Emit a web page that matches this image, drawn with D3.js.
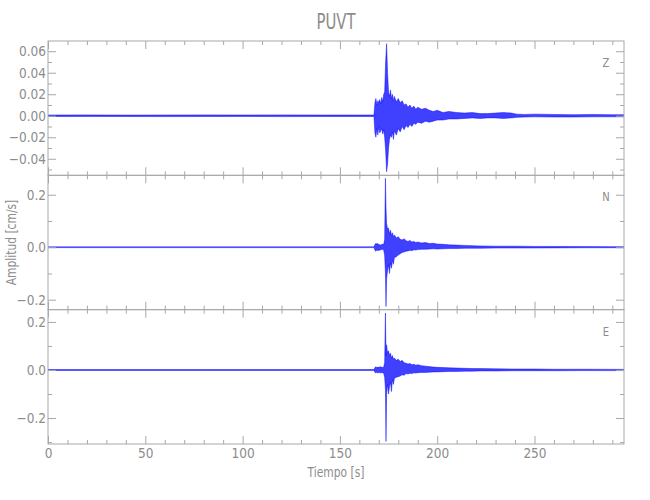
<!DOCTYPE html>
<html><head><meta charset="utf-8">
<script src="https://cdn.jsdelivr.net/npm/d3@7/dist/d3.min.js"></script>
<style>body{margin:0;background:#fff}</style>
</head><body><svg id="c" width="650" height="500"></svg>
<script>
// ---------- data ----------
const title = "PUVT";
const xLabel = "Tiempo [s]";
const yLabel = "Amplitud [cm/s]";
const components = ["Z", "N", "E"];
const xDomain = [0, 296];
const xTicks = [0, 50, 100, 150, 200, 250];
const xMinorStep = 10;

const zDomain = [-0.0554, 0.0695];
const nDomain = [-0.238, 0.274];
const eDomain = [-0.308, 0.251];
const zTicks = [-0.04, -0.02, 0.00, 0.02, 0.04, 0.06];
const nTicks = [-0.2, 0.0, 0.2];
const eTicks = [-0.2, 0.0, 0.2];
const zMinorStep = 0.01, nMinorStep = 0.1, eMinorStep = 0.1;

// envelope of the Z trace (time s, upper, lower) in cm/s
const zTime  = [0,20,40,60,80,100,120,140,160,167.5,168,168.5,169,169.5,170,170.5,171,171.5,172,172.5,173,173.5,174,174.5,175,175.5,176,176.5,177,177.5,178,179,180,181,182,183,184,185,186,187,188,189,190,192,194,196,198,200,203,206,210,214,218,222,226,230,234,238,241,245,250,260,270,280,290,296];
const zUpper = [.0007,.0008,.0006,.0007,.0008,.0007,.0008,.0007,.0007,.0007,.012,.016,.010,.014,.012,.015,.011,.017,.013,.020,.022,.050,.067,.040,.022,.018,.024,.016,.020,.014,.018,.013,.016,.012,.014,.010,.011,.008,.010,.007,.009,.006,.008,.006,.007,.005,.004,.005,.003,.004,.003,.0025,.003,.002,.002,.0025,.003,.0025,.0015,.0012,.0015,.0012,.001,.0012,.001,.001];
const zLower = [-.0007,-.0006,-.0007,-.0008,-.0007,-.0006,-.0008,-.0007,-.0007,-.0007,-.016,-.020,-.012,-.018,-.010,-.016,-.014,-.012,-.017,-.013,-.020,-.032,-.052,-.045,-.030,-.022,-.018,-.020,-.015,-.022,-.014,-.018,-.012,-.015,-.010,-.013,-.009,-.011,-.008,-.010,-.007,-.008,-.006,-.007,-.005,-.006,-.005,-.004,-.004,-.003,-.003,-.0025,-.002,-.0025,-.002,-.002,-.0025,-.002,-.0015,-.0012,-.001,-.0012,-.0012,-.001,-.001,-.001];

// envelope of the N trace
const nTime  = [0,20,40,60,80,100,120,140,160,167.5,168,168.5,169,169.5,170,171,172,172.5,173,173.4,173.7,174,174.5,175,175.5,176,176.5,177,177.5,178,179,180,181,182,183,184,185,186,187,188,189,190,192,194,196,198,200,203,206,210,214,218,222,230,240,250,260,275,296];
const nUpper = [.0015,.0015,.0015,.0015,.0015,.0015,.0015,.0015,.0015,.0015,.010,.015,.012,.014,.010,.008,.012,.010,.030,.263,.150,.090,.070,.073,.050,.065,.045,.055,.040,.047,.035,.040,.030,.028,.032,.025,.022,.026,.020,.022,.018,.020,.016,.018,.014,.015,.012,.011,.009,.008,.007,.006,.005,.004,.004,.003,.003,.0025,.002];
const nLower = [-.0015,-.0015,-.0015,-.0015,-.0015,-.0015,-.0015,-.0015,-.0015,-.0015,-.012,-.015,-.010,-.013,-.012,-.010,-.008,-.012,-.030,-.100,-.226,-.120,-.090,-.067,-.100,-.060,-.080,-.050,-.065,-.040,-.036,-.030,-.025,-.020,-.018,-.015,-.014,-.012,-.013,-.010,-.011,-.009,-.008,-.008,-.007,-.006,-.007,-.006,-.005,-.005,-.004,-.004,-.004,-.003,-.003,-.003,-.0025,-.002,-.002];

// envelope of the E trace
const eTime  = [0,20,40,60,80,100,120,140,160,167.5,168,168.5,169,169.5,170,171,172,172.5,173,173.4,173.7,174,174.5,175,175.5,176,176.5,177,177.5,178,179,180,181,182,183,184,185,186,187,188,189,190,192,194,196,198,200,203,206,210,214,218,222,230,240,250,260,275,296];
const eUpper = [.002,.002,.002,.002,.002,.002,.002,.002,.002,.002,.010,.013,.010,.012,.011,.013,.010,.012,.030,.237,.060,.105,.070,.080,.060,.070,.050,.060,.045,.050,.040,.045,.035,.040,.030,.028,.025,.027,.022,.024,.020,.022,.018,.016,.014,.012,.011,.010,.009,.008,.007,.006,.006,.005,.004,.004,.003,.003,.0025];
const eLower = [-.002,-.002,-.002,-.002,-.002,-.002,-.002,-.002,-.002,-.002,-.010,-.012,-.009,-.013,-.010,-.012,-.011,-.014,-.030,-.080,-.297,-.100,-.060,-.100,-.070,-.050,-.090,-.040,-.060,-.035,-.030,-.028,-.025,-.020,-.022,-.015,-.017,-.014,-.015,-.012,-.013,-.011,-.010,-.010,-.009,-.008,-.008,-.007,-.006,-.006,-.005,-.005,-.004,-.004,-.003,-.003,-.003,-.0025,-.0025];

// ---------- drawing ----------
const M = {left: 48, right: 624, top: 41, bottom: 444};
const FONT = "'Liberation Sans Narrow','DejaVu Sans Condensed','Roboto',sans-serif";
const TXT = "#8c8c8c", AX = "#a8a8a8", BLUE = "#0000ff";

const svg = d3.select("#c");
const x = d3.scaleLinear().domain(xDomain).range([M.left, M.right]);

const ph = (M.bottom - M.top) / 3;
const panelDefs = [
  {name: components[0], dom: zDomain, ticks: zTicks, minor: zMinorStep, fmt: d3.format(".2f"), t: zTime, u: zUpper, l: zLower},
  {name: components[1], dom: nDomain, ticks: nTicks, minor: nMinorStep, fmt: d3.format(".1f"), t: nTime, u: nUpper, l: nLower},
  {name: components[2], dom: eDomain, ticks: eTicks, minor: eMinorStep, fmt: d3.format(".1f"), t: eTime, u: eUpper, l: eLower}
];

function seq(a, b, s) { const r = []; const n = Math.floor((b - a) / s + 1e-9); for (let i = 0; i <= n; i++) r.push(+(a + i * s).toFixed(6)); return r; }
const xMinor = seq(0, xDomain[1], xMinorStep).filter(v => !xTicks.includes(v));
const minus = s => s.replace("-", "\u2212");

panelDefs.forEach((p, i) => {
  const y0 = M.top + i * ph, y1 = M.top + (i + 1) * ph;
  const y = d3.scaleLinear().domain(p.dom).range([y1, y0]);
  const g = svg.append("g");

  const clipId = "clip" + i;
  svg.append("clipPath").attr("id", clipId).append("rect")
    .attr("x", M.left).attr("y", y0).attr("width", M.right - M.left).attr("height", y1 - y0);

  // waveform envelope
  const data = p.t.map((t, k) => ({t, hi: p.u[k], lo: p.l[k]}));
  const area = d3.area().x(d => x(d.t)).y0(d => y(d.lo)).y1(d => y(d.hi));
  g.append("path").datum(data).attr("clip-path", `url(#${clipId})`)
    .attr("d", area).attr("fill", BLUE).attr("fill-opacity", 0.75)
    .attr("stroke", BLUE).attr("stroke-width", 0.5).attr("stroke-opacity", 0.9);

  // frame
  g.append("rect").attr("x", M.left).attr("y", y0).attr("width", M.right - M.left).attr("height", y1 - y0)
    .attr("fill", "none").attr("stroke", AX).attr("stroke-width", 1);

  const yMinor = seq(Math.ceil(p.dom[0] / p.minor - 1e-9) * p.minor, p.dom[1], p.minor)
    .filter(v => v >= p.dom[0] && v <= p.dom[1] && !p.ticks.some(t => Math.abs(t - v) < 1e-9));

  const styleAxis = sel => {
    sel.select(".domain").remove();
    sel.selectAll("line").attr("stroke", AX);
    sel.selectAll("text").attr("fill", TXT).style("font-family", FONT).style("font-size", "13.5px");
  };

  g.append("g").attr("transform", `translate(${M.left},0)`)
    .call(d3.axisLeft(y).tickValues(p.ticks).tickSizeInner(-8).tickSizeOuter(0).tickPadding(2).tickFormat(d => minus(p.fmt(d))))
    .call(styleAxis);
  g.append("g").attr("transform", `translate(${M.left},0)`)
    .call(d3.axisLeft(y).tickValues(yMinor).tickSizeInner(-4).tickSizeOuter(0).tickFormat(""))
    .call(styleAxis);
  g.append("g").attr("transform", `translate(${M.right},0)`)
    .call(d3.axisRight(y).tickValues(p.ticks).tickSizeInner(-8).tickSizeOuter(0).tickFormat(""))
    .call(styleAxis);
  g.append("g").attr("transform", `translate(${M.right},0)`)
    .call(d3.axisRight(y).tickValues(yMinor).tickSizeInner(-4).tickSizeOuter(0).tickFormat(""))
    .call(styleAxis);
  g.append("g").attr("transform", `translate(0,${y0})`)
    .call(d3.axisTop(x).tickValues(xTicks).tickSizeInner(-8).tickSizeOuter(0).tickFormat(""))
    .call(styleAxis);
  g.append("g").attr("transform", `translate(0,${y0})`)
    .call(d3.axisTop(x).tickValues(xMinor).tickSizeInner(-4).tickSizeOuter(0).tickFormat(""))
    .call(styleAxis);
  g.append("g").attr("transform", `translate(0,${y1})`)
    .call(d3.axisBottom(x).tickValues(xTicks).tickSizeInner(-8).tickSizeOuter(0).tickPadding(4)
      .tickFormat(i === 2 ? d3.format("d") : ""))
    .call(styleAxis);
  g.append("g").attr("transform", `translate(0,${y1})`)
    .call(d3.axisBottom(x).tickValues(xMinor).tickSizeInner(-4).tickSizeOuter(0).tickFormat(""))
    .call(styleAxis);

  g.append("text").attr("transform", `translate(606,${y0 + 26}) scale(0.85,1)`).text(p.name)
    .attr("fill", TXT).style("font-family", FONT).style("font-size", "13px").attr("text-anchor", "middle");
});

svg.append("text").attr("transform", `translate(${(M.left + M.right) / 2},29) scale(0.75,1)`).attr("text-anchor", "middle")
  .attr("fill", TXT).style("font-family", FONT).style("font-size", "22px").text(title);
svg.append("text").attr("transform", `translate(${(M.left + M.right) / 2},477) scale(0.85,1)`).attr("text-anchor", "middle")
  .attr("fill", TXT).style("font-family", FONT).style("font-size", "14px").text(xLabel);
svg.append("text").attr("transform", `translate(16,${(M.top + M.bottom) / 2}) rotate(-90) scale(0.85,1)`).attr("text-anchor", "middle")
  .attr("fill", TXT).style("font-family", FONT).style("font-size", "14px").text(yLabel);
</script>
</body></html>
